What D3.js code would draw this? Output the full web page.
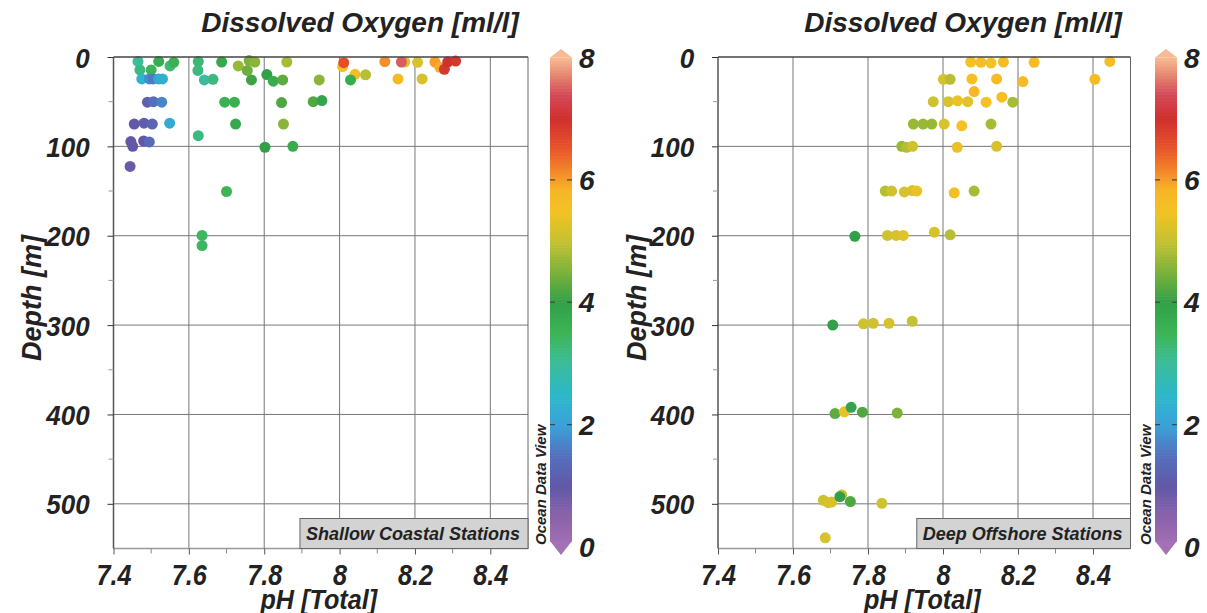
<!DOCTYPE html>
<html><head><meta charset="utf-8">
<script src="https://cdn.jsdelivr.net/npm/d3@7/dist/d3.min.js"></script>
<style>body{margin:0;background:#fff}svg{display:block}text{font-family:"Liberation Sans",Arial,sans-serif;font-weight:bold;font-style:italic;fill:#222}</style>
</head><body><svg id="c" width="1207" height="613"></svg>
<script>
const phTicks = [7.4, 7.6, 7.8, 8, 8.2, 8.4];
const depthTicks = [0, 100, 200, 300, 400, 500];
const cbTicks = [0, 2, 4, 6, 8];
const title = "Dissolved Oxygen [ml/l]";

const shallowPH = [7.465,7.47,7.50,7.52,7.55,7.56,7.475,7.495,7.505,7.52,7.53,7.49,7.506,7.528,7.455,7.481,7.503,7.549,7.446,7.451,7.48,7.495,7.444,
  7.625,7.624,7.641,7.664,7.687,7.731,7.755,7.76,7.775,7.766,7.807,7.824,7.849,7.86,7.946,7.695,7.721,7.846,7.93,7.953,7.724,7.851,7.625,7.802,7.876,
  7.70,7.635,7.635,
  8.008,8.011,8.041,8.069,8.029,8.12,8.173,8.164,8.155,8.207,8.219,8.253,8.266,8.278,8.287,8.308];
const shallowDepth = [5,14.5,14.5,5,10,6,24.5,24.5,24.5,24.5,24.5,50.6,50,50.6,75,74,75,74,94.6,100,94,95,122.5,
  5,15,25.7,25,5.6,10,15,4,5.6,25.7,19.7,27,25.7,5.6,25.7,50.6,50.6,51,50,48.8,75,75,88,101,100,
  150.5,199.7,211,
  10.8,6.3,19.4,20,25.7,5.2,5.6,5.6,24.5,6,24.5,5.6,11.5,13.8,5.6,4.5];
const shallowO2 = [3.0,3.2,3.5,3.7,3.3,3.6,2.4,1.8,1.6,2.1,2.3,1.2,1.5,1.7,1.0,1.1,1.3,2.2,1.0,1.0,1.0,1.4,0.9,
  3.3,3.2,3.0,3.2,3.8,4.7,4.4,4.5,4.6,4.1,4.0,3.7,4.3,4.8,4.6,3.6,3.6,4.2,4.2,3.9,3.8,4.6,3.2,4.0,3.7,
  3.5,3.4,3.4,
  5.5,6.6,5.6,4.9,3.7,6.1,5.3,7.5,5.7,5.2,5.2,6.0,5.9,6.9,7.0,6.9];

const deepPH = [8.074,8.101,8.128,8.161,8.243,8.001,8.019,8.077,8.143,8.213,8.083,7.974,8.014,8.039,8.066,8.115,8.157,8.186,
  7.921,7.947,7.97,8.003,8.05,8.128,7.89,7.903,7.919,8.038,8.143,
  7.846,7.863,7.897,7.918,7.93,8.03,8.083,7.765,7.852,7.875,7.894,7.977,8.019,
  7.706,7.788,7.814,7.856,7.918,7.712,7.737,7.755,7.785,7.878,
  7.681,7.694,7.703,7.73,7.725,7.753,7.837,7.686,8.405,8.445];
const deepDepth = [5.6,6,6.7,5.6,6,25,25,24.5,24.5,27.5,38.7,50,50,49,50,50.6,45,50.6,
  75,75,75,75,77,75,100,101,100,101,100,
  150,150,151,149.5,150,152,150,200.7,199.7,199.7,199.7,196,199,
  300,298.6,298,298,295.7,399,397,392,397.4,398.5,
  496,498.7,498,490,492,497.5,499.5,538,25,5];
const deepO2 = [5.55,5.6,5.5,5.65,5.65,5.2,4.9,5.55,5.65,5.7,5.8,5.1,5.2,5.4,5.3,5.5,5.6,4.8,
  4.7,4.7,4.7,5.2,5.5,4.8,4.7,4.9,5.1,5.4,5.2,
  4.9,5.1,5.2,5.2,5.4,5.6,4.8,4.0,5.1,5.2,5.3,5.2,4.9,
  4.0,5.1,5.1,5.2,5.0,4.3,5.4,3.9,4.2,4.5,
  5.1,5.2,5.2,5.1,4.0,4.2,5.1,5.2,5.65,5.6];

const cStops = [0,0.5,1,1.5,2,2.5,3,3.5,4,4.5,5,5.5,5.85,6.05,6.5,7,7.4,7.7,8];
const cColors = ["#a472b4","#8a62aa","#6258a8","#5470bc","#3aa2da","#2cb8c8","#3cbc9a","#3db556","#31a048","#7cb23a","#c4c232","#f4c224","#f6b426","#f6962b","#e9562a","#d0302e","#d44a58","#e4846f","#f8ba92"];
const color = d3.scaleLinear().domain(cStops).range(cColors).interpolate(d3.interpolateRgb).clamp(true);

const svg = d3.select("#c");
const panels = [
  {x0:113.5, x1:528, cbx:550, tx:360, lab:"Shallow Coastal Stations", ph:shallowPH, dep:shallowDepth, o2:shallowO2, ytx:32},
  {x0:718, x1:1130.5, cbx:1155, tx:963, lab:"Deep Offshore Stations", ph:deepPH, dep:deepDepth, o2:deepO2, ytx:637}
];
const Y0 = 57, Y1 = 548.5;

panels.forEach(p => {
  const g = svg.append("g");
  const x = d3.scaleLinear().domain([7.4, 8.5]).range([p.x0, p.x1]);
  const y = d3.scaleLinear().domain([0, 550]).range([Y0, Y1]);

  // grid
  g.selectAll(".vg").data(phTicks.slice(1)).enter().append("line")
    .attr("x1", d => x(d)).attr("x2", d => x(d)).attr("y1", Y0).attr("y2", Y1)
    .attr("stroke", "#777").attr("stroke-width", 1);
  g.selectAll(".hg").data(depthTicks.slice(1)).enter().append("line")
    .attr("x1", p.x0).attr("x2", p.x1).attr("y1", d => y(d)).attr("y2", d => y(d))
    .attr("stroke", "#777").attr("stroke-width", 1);

  // points
  const pts = p.ph.map((v, i) => ({ph: v, d: p.dep[i], o: p.o2[i]}));
  g.selectAll("circle").data(pts).enter().append("circle")
    .attr("cx", d => x(d.ph)).attr("cy", d => y(d.d)).attr("r", 5.5)
    .attr("fill", d => color(d.o));

  // frame
  g.append("line").attr("x1", p.x0).attr("x2", p.x1).attr("y1", Y0).attr("y2", Y0).attr("stroke", "#444").attr("stroke-width", 1.5);
  g.append("line").attr("x1", p.x0).attr("x2", p.x1).attr("y1", Y1).attr("y2", Y1).attr("stroke", "#999").attr("stroke-width", 1.5);
  g.append("line").attr("x1", p.x0).attr("x2", p.x0).attr("y1", Y0).attr("y2", Y1).attr("stroke", "#555").attr("stroke-width", 1.5);
  g.append("line").attr("x1", p.x1).attr("x2", p.x1).attr("y1", Y0).attr("y2", Y1).attr("stroke", "#666").attr("stroke-width", 1);

  // y axis
  const ya = d3.axisLeft(y).tickValues(depthTicks).tickSize(6).tickPadding(10);
  const yg = g.append("g").attr("transform", `translate(${p.x0},0)`).call(ya);
  yg.select(".domain").remove();
  yg.selectAll(".tick line").attr("stroke", "#333");
  yg.selectAll(".tick text").style("font-size", "28px").attr("fill", "#222").attr("dy", "0.36em")
    .attr("transform", "translate(-9,0) scale(0.93,1)");
  const yMinor = d3.range(50, 550, 100);
  g.selectAll(".ym").data(yMinor).enter().append("line")
    .attr("x1", p.x0 - 5).attr("x2", p.x0).attr("y1", d => y(d)).attr("y2", d => y(d)).attr("stroke", "#999");

  // x axis
  const xa = d3.axisBottom(x).tickValues(phTicks).tickSize(6).tickPadding(9).tickFormat(d3.format("~g"));
  const xg = g.append("g").attr("transform", `translate(0,${Y1})`).call(xa);
  xg.select(".domain").remove();
  xg.selectAll(".tick line").attr("stroke", "#555");
  xg.selectAll(".tick text").style("font-size", "30px").attr("fill", "#222").attr("transform", "scale(0.84,1)");
  g.selectAll(".xm").data(d3.range(7.5, 8.5, 0.2)).enter().append("line")
    .attr("x1", d => x(d)).attr("x2", d => x(d)).attr("y1", Y1).attr("y2", Y1 + 5).attr("stroke", "#888");

  g.append("text").attr("transform", `translate(${(p.x0 + p.x1) / 2 - 2},609) scale(0.9,1)`).attr("text-anchor", "middle").style("font-size", "28px").text("pH [Total]");
  g.append("text").attr("transform", `translate(${p.ytx},298) rotate(-90)`).attr("text-anchor", "middle").attr("dy", "0.35em").style("font-size", "27px").text("Depth [m]");
  g.append("text").attr("x", p.tx).attr("y", 32).attr("text-anchor", "middle").style("font-size", "28px").text(title);

  // label box
  const box = g.append("rect");
  const lt = g.append("text").attr("y", Y1 - 9).style("font-size", "18px").text(p.lab);
  const w = lt.node().getComputedTextLength();
  const bw = w + 14;
  box.attr("x", p.x1 - bw).attr("y", Y1 - 30).attr("width", bw).attr("height", 30)
    .attr("fill", "#d3d3d3").attr("stroke", "#666").attr("stroke-width", 1);
  lt.attr("x", p.x1 - bw + 6);

  // colorbar
  const cb = d3.scaleLinear().domain([0, 8]).range([547, 57.5]);
  const bw2 = 22, cx = p.cbx;
  const steps = d3.range(0, 8, 0.05);
  g.selectAll(".cbr").data(steps).enter().append("rect")
    .attr("x", cx).attr("width", bw2).attr("y", d => Math.min(cb(d + 0.05), 541))
    .attr("height", d => Math.max(0, Math.min(cb(d), 541) - cb(d + 0.05) + 0.6))
    .attr("fill", d => color(d + 0.025));
  g.append("path").attr("d", `M${cx},57.5 L${cx + bw2 / 2},49 L${cx + bw2},57.5 Z`).attr("fill", color(8));
  g.append("path").attr("d", `M${cx},541 L${cx + bw2 / 2},555 L${cx + bw2},541 Z`).attr("fill", color(0));
  g.selectAll(".cbt").data([2, 4, 6]).enter().append("g").each(function (d) {
    const s = d3.select(this);
    s.append("line").attr("x1", cx).attr("x2", cx + 5).attr("y1", cb(d)).attr("y2", cb(d)).attr("stroke", "#444").attr("stroke-width", 1.2);
    s.append("line").attr("x1", cx + bw2 - 5).attr("x2", cx + bw2).attr("y1", cb(d)).attr("y2", cb(d)).attr("stroke", "#444").attr("stroke-width", 1.2);
  });
  g.selectAll(".cbl").data(cbTicks).enter().append("text")
    .attr("x", cx + bw2 + 7).attr("y", d => cb(d)).attr("dy", "0.36em")
    .style("font-size", "28px").text(d => d);
  g.append("text").attr("transform", `translate(${cx - 4},545) rotate(-90)`).style("font-size", "15px").text("Ocean Data View");
});
</script></body></html>
